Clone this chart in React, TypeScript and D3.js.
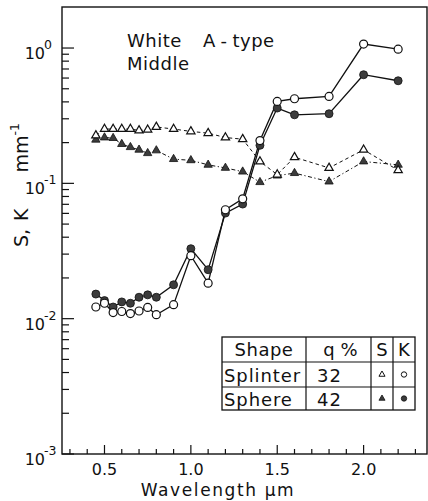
import React from 'react';
import * as d3 from 'd3';

// wavelength in µm, shared by all four series
const wavelengths = [0.45, 0.5, 0.55, 0.6, 0.65, 0.7, 0.75, 0.8, 0.9, 1.0, 1.1, 1.2, 1.3, 1.4, 1.5, 1.6, 1.8, 2.0, 2.2];

// K (absorption), mm^-1
const splinterK = [0.0122, 0.013, 0.0111, 0.0113, 0.0109, 0.0114, 0.0121, 0.0107, 0.0127, 0.0292, 0.0183, 0.0638, 0.0769, 0.207, 0.403, 0.422, 0.439, 1.07, 0.98];
const sphereK = [0.0152, 0.0136, 0.0122, 0.0133, 0.013, 0.0144, 0.015, 0.0144, 0.0178, 0.0329, 0.023, 0.0603, 0.0703, 0.191, 0.36, 0.321, 0.327, 0.635, 0.573];

// S (scattering), mm^-1
const splinterS = [0.226, 0.252, 0.252, 0.252, 0.252, 0.246, 0.249, 0.261, 0.252, 0.242, 0.235, 0.218, 0.212, 0.145, 0.116, 0.156, 0.13, 0.177, 0.125];
const sphereS = [0.21, 0.218, 0.216, 0.195, 0.185, 0.177, 0.167, 0.175, 0.151, 0.148, 0.137, 0.13, 0.122, 0.102, 0.114, 0.119, 0.103, 0.145, 0.137];

const xMajor = [0.5, 1.0, 1.5, 2.0];
const xMinor = d3.range(3, 24).map(i => i / 10);
const yDecades = [-3, -2, -1, 0];

const tableRows = [
  { shape: 'Splinter', q: '32', filled: false },
  { shape: 'Sphere', q: '42', filled: true },
];

const FONT = 'DejaVu Sans, sans-serif';
const INK = '#111';
const GREY = '#3c3c3c';

const W = 428;
const H = 501;
const plot = { left: 62, right: 427, top: 7, bottom: 454 };

export default function App() {
  const x = d3.scaleLinear().domain([0.254, 2.367]).range([plot.left, plot.right]);
  const y = d3.scaleLog().domain([1e-3, 2.01]).range([plot.bottom, plot.top]);

  const line = (vals: number[]) =>
    d3.line<number>().x((_, i) => x(wavelengths[i])).y(v => y(v))(vals) || '';

  const tri = d3.symbol(d3.symbolTriangle, 30)() || '';
  const triSmall = d3.symbol(d3.symbolTriangle, 16)() || '';

  const yMinor: number[] = [];
  yDecades.slice(0, 3).forEach(e => {
    for (let m = 2; m <= 9; m++) yMinor.push(m * Math.pow(10, e));
  });

  // table geometry
  const cols = [222, 306, 371, 393, 415];
  const rows = [337, 362, 387, 410];

  return (
    <svg width={W} height={H} style={{ position: 'absolute', left: 0, top: 0, background: '#fff' }}
      fontFamily={FONT}>
      <rect x={0} y={0} width={W} height={H} fill="#fff" />

      {/* frame */}
      <rect x={plot.left} y={plot.top} width={plot.right - plot.left} height={plot.bottom - plot.top}
        fill="none" stroke={INK} strokeWidth={1.4} />

      {/* y ticks */}
      {yMinor.map(v => (
        <line key={'ym' + v} x1={plot.left} x2={plot.left + 7} y1={y(v)} y2={y(v)} stroke={INK} strokeWidth={1.2} />
      ))}
      {yDecades.map(e => (
        <g key={'yd' + e}>
          <line x1={plot.left} x2={plot.left + 12} y1={y(Math.pow(10, e))} y2={y(Math.pow(10, e))} stroke={INK} strokeWidth={1.2} />
          <text x={45} y={y(Math.pow(10, e)) + 11} fontSize={16} textAnchor="end" fill={INK}>10</text>
          <text x={44} y={y(Math.pow(10, e)) + 1} fontSize={12.5} textAnchor="start" fill={INK}>{e === 0 ? '0' : String(e)}</text>
        </g>
      ))}

      {/* x ticks */}
      {xMinor.map(v => {
        const major = xMajor.some(m => Math.abs(m - v) < 1e-6);
        return (
          <line key={'xt' + v} x1={x(v)} x2={x(v)} y1={plot.bottom} y2={plot.bottom - (major ? 9 : 5)}
            stroke={INK} strokeWidth={1.2} />
        );
      })}
      {xMajor.map(v => (
        <text key={'xl' + v} x={x(v)} y={475} fontSize={16} textAnchor="middle" fill={INK}>{v.toFixed(1)}</text>
      ))}

      {/* axis titles */}
      <text x={218} y={496} fontSize={17} letterSpacing={1.6} textAnchor="middle" fill={INK}>
        Wavelength  µm
      </text>
      <text transform="translate(28,247) rotate(-90)" fontSize={19} textAnchor="start" fill={INK}>
        <tspan>S,</tspan>
        <tspan dx={8}>K</tspan>
        <tspan dx={36}>mm</tspan>
        <tspan fontSize={12.5} dy={-9}>-1</tspan>
      </text>

      {/* annotation */}
      <text x={127} y={47} fontSize={18} fill={INK} letterSpacing={0.5}>
        <tspan>White</tspan>
        <tspan x={203}>A</tspan>
        <tspan dx={5}>-</tspan>
        <tspan dx={5}>type</tspan>
      </text>
      <text x={127} y={70} fontSize={18} fill={INK} letterSpacing={0.5}>Middle</text>

      {/* S series (dashed) */}
      <path d={line(splinterS)} fill="none" stroke={INK} strokeWidth={1} strokeDasharray="3.5 3" />
      <path d={line(sphereS)} fill="none" stroke={INK} strokeWidth={1} strokeDasharray="4 2.5 1.2 2.5" />

      {/* K series (solid) */}
      <path d={line(sphereK)} fill="none" stroke={INK} strokeWidth={1.3} />
      <path d={line(splinterK)} fill="none" stroke={INK} strokeWidth={1.3} />

      {sphereS.map((v, i) => (
        <path key={'ss' + i} d={tri} transform={`translate(${x(wavelengths[i])},${y(v)})`}
          fill={GREY} stroke={INK} strokeWidth={0.8} />
      ))}
      {splinterS.map((v, i) => (
        <path key={'ps' + i} d={tri} transform={`translate(${x(wavelengths[i])},${y(v)})`}
          fill="#fff" stroke={INK} strokeWidth={1.2} />
      ))}
      {sphereK.map((v, i) => (
        <circle key={'sk' + i} cx={x(wavelengths[i])} cy={y(v)} r={4}
          fill={GREY} stroke={INK} strokeWidth={0.8} />
      ))}
      {splinterK.map((v, i) => (
        <circle key={'pk' + i} cx={x(wavelengths[i])} cy={y(v)} r={4}
          fill="#fff" stroke={INK} strokeWidth={1.2} />
      ))}

      {/* legend table */}
      <g>
        <rect x={cols[0]} y={rows[0]} width={cols[4] - cols[0]} height={rows[3] - rows[0]}
          fill="#fff" stroke={INK} strokeWidth={1.3} />
        {cols.slice(1, 4).map(c => (
          <line key={'c' + c} x1={c} x2={c} y1={rows[0]} y2={rows[3]} stroke={INK} strokeWidth={1.2} />
        ))}
        {rows.slice(1, 3).map(r => (
          <line key={'r' + r} x1={cols[0]} x2={cols[4]} y1={r} y2={r} stroke={INK} strokeWidth={1.2} />
        ))}
        <text x={(cols[0] + cols[1]) / 2} y={rows[0] + 19} fontSize={18} textAnchor="middle" fill={INK} letterSpacing={0.5}>Shape</text>
        <text x={(cols[1] + cols[2]) / 2 + 2} y={rows[0] + 19} fontSize={18} textAnchor="middle" fill={INK}>q %</text>
        <text x={(cols[2] + cols[3]) / 2} y={rows[0] + 19} fontSize={18} textAnchor="middle" fill={INK}>S</text>
        <text x={(cols[3] + cols[4]) / 2} y={rows[0] + 19} fontSize={18} textAnchor="middle" fill={INK}>K</text>
        {tableRows.map((r, i) => {
          const cy = (rows[i + 1] + rows[i + 2]) / 2;
          return (
            <g key={r.shape}>
              <text x={cols[0] + 2} y={cy + 7} fontSize={18} fill={INK} letterSpacing={0.9}>{r.shape}</text>
              <text x={cols[1] + 11} y={cy + 7} fontSize={18} fill={INK} letterSpacing={1}>{r.q}</text>
              <path d={triSmall} transform={`translate(${(cols[2] + cols[3]) / 2},${cy})`}
                fill={r.filled ? GREY : '#fff'} stroke={INK} strokeWidth={r.filled ? 0.8 : 1} />
              <circle cx={(cols[3] + cols[4]) / 2} cy={cy} r={2.7}
                fill={r.filled ? GREY : '#fff'} stroke={INK} strokeWidth={r.filled ? 0.8 : 1} />
            </g>
          );
        })}
      </g>
    </svg>
  );
}
